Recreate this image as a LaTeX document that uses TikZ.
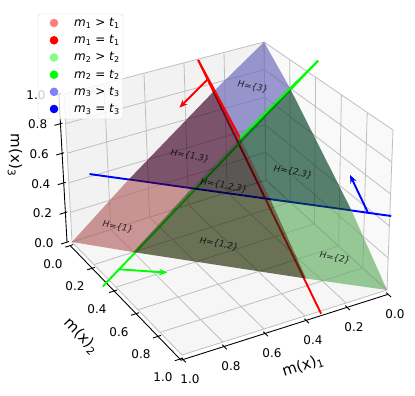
\documentclass[tikz,border=0pt]{standalone}
\usepackage{fontspec}
\setmainfont{DejaVu Sans}
\usepackage{xcolor}
\usetikzlibrary{arrows.meta}

% colours of the regions of the simplex
\definecolor{hA}{RGB}{178,97,97}
\definecolor{hB}{RGB}{97,174,97}
\definecolor{hC}{RGB}{100,100,183}
\definecolor{hAB}{RGB}{32,42,0}
\definecolor{hAC}{RGB}{60,0,35}
\definecolor{hBC}{RGB}{0,63,35}
\definecolor{hABC}{RGB}{11,5,0}

% named point of the unit box, from (m1,m2,m3)
\newcommand{\spot}[4]{\coordinate (#1) at ({px(#2,#3,#4)},{py(#2,#3,#4)});}

\begin{document}
\begin{tikzpicture}[x=1pt, y=-1pt, >={Stealth[length=8pt,width=6.5pt]},
    declare function={
      px(\x,\y,\z)=(1-\z)*((1-\x)*(1-\y)*266+\x*(1-\y)*72+(1-\x)*\y*387+\x*\y*182)
                  +\z*((1-\x)*(1-\y)*264+\x*(1-\y)*64+(1-\x)*\y*393+\x*\y*182);
      py(\x,\y,\z)=(1-\z)*((1-\x)*(1-\y)*180+\x*(1-\y)*242+(1-\x)*\y*290+\x*\y*355)
                  +\z*((1-\x)*(1-\y)*42+\x*(1-\y)*94+(1-\x)*\y*130+\x*\y*185);
    },
    gridline/.style={black!25, line width=0.8pt},
    axisline/.style={black, line width=0.9pt},
    ticklab/.style={font=\fontsize{12}{14}\selectfont, inner sep=0pt},
    axlab/.style={font=\fontsize{15}{18}\selectfont, inner sep=0pt},
    hlab/.style={font=\fontsize{8.8}{10}\selectfont\itshape, rotate=-10, inner sep=0pt, text opacity=0.8},
    mline/.style={line width=1.9pt},
    region/.style={fill opacity=0.65},
    legtext/.style={font=\fontsize{12}{14}\selectfont, inner sep=0pt, anchor=west}]
\useasboundingbox (0,0) rectangle (415,396);

% box corners
\spot{O}{0}{0}{0}
\spot{A}{1}{0}{0}
\spot{B}{0}{1}{0}
\spot{C}{0}{0}{1}
\spot{AB}{1}{1}{0}
\spot{AC}{1}{0}{1}
\spot{BC}{0}{1}{1}

% panes
\fill[gray!10] (O) -- (A) -- (AC) -- (C) -- cycle;
\fill[gray!5] (O) -- (B) -- (BC) -- (C) -- cycle;
\fill[gray!7.5] (O) -- (A) -- (AB) -- (B) -- cycle;

\foreach \t in {0,0.2,0.4,0.6,0.8,1} {
  \draw[gridline] ({px(\t,0,0)},{py(\t,0,0)}) -- ({px(\t,0,1)},{py(\t,0,1)});
  \draw[gridline] ({px(1,0,\t)},{py(1,0,\t)}) -- ({px(0,0,\t)},{py(0,0,\t)});
  \draw[gridline] ({px(0,\t,0)},{py(0,\t,0)}) -- ({px(0,\t,1)},{py(0,\t,1)});
  \draw[gridline] ({px(0,0,\t)},{py(0,0,\t)}) -- ({px(0,1,\t)},{py(0,1,\t)});
  \draw[gridline] ({px(\t,0,0)},{py(\t,0,0)}) -- ({px(\t,1,0)},{py(\t,1,0)});
  \draw[gridline] ({px(0,\t,0)},{py(0,\t,0)}) -- ({px(1,\t,0)},{py(1,\t,0)});
}

% axes
\draw[axisline] ({px(1.01,0,-0.02)},{py(1.01,0,-0.02)}) -- ({px(1.01,1.01,-0.02)},{py(1.01,1.01,-0.02)})
  -- ({px(0,1.01,-0.02)},{py(0,1.01,-0.02)});
\draw[axisline] ({px(1.02,-0.01,0)},{py(1.02,-0.01,0)}) -- ({px(1.02,-0.01,1)},{py(1.02,-0.01,1)});
\foreach \t/\lab in {0/0.0,0.2/0.2,0.4/0.4,0.6/0.6,0.8/0.8,1/1.0} {
  \draw[axisline] ({px(0.995,\t,-0.02)},{py(0.995,\t,-0.02)}) -- ({px(1.035,\t,-0.02)},{py(1.035,\t,-0.02)});
  \node[ticklab] at ({px(1,\t,0)-19},{py(1,\t,0)+22}) {\lab};
  \draw[axisline] ({px(\t,0.995,-0.02)},{py(\t,0.995,-0.02)}) -- ({px(\t,1.035,-0.02)},{py(\t,1.035,-0.02)});
  \node[ticklab] at ({px(\t,1,0)+8},{py(\t,1,0)+24}) {\lab};
  \draw[axisline] ({px(1.01,-0.01,\t)},{py(1.01,-0.01,\t)}) -- ({px(1.05,-0.01,\t)},{py(1.05,-0.01,\t)});
  \node[ticklab] at ({px(1,0,\t)-28},{py(1,0,\t)+1}) {\lab};
}
\node[axlab, rotate=18] (lab1) at (303,366) {m(x)\textsubscript{1}};
\node[axlab, rotate=-46] (lab2) at (81,336) {m(x)\textsubscript{2}};
\node[axlab, rotate=-90] (lab3) at (15,155) {m(x)\textsubscript{3}};

% threshold lines and their crossings with the simplex
\spot{redS}{0.25}{-0.13}{0.88}
\spot{redE}{0.25}{0.88}{-0.13}
\spot{grnS}{-0.14}{0.2}{0.94}
\spot{grnE}{0.96}{0.2}{-0.16}
\spot{bluS}{-0.12}{0.82}{0.3}
\spot{bluE}{0.825}{-0.125}{0.3}
\spot{eR2}{0.25}{0}{0.75}
\spot{eR3}{0.25}{0.75}{0}
\spot{eG1}{0}{0.2}{0.8}
\spot{eG3}{0.8}{0.2}{0}
\spot{eB1}{0}{0.7}{0.3}
\spot{eB2}{0.7}{0}{0.3}
\spot{xRG}{0.25}{0.2}{0.55}
\spot{xRB}{0.25}{0.45}{0.3}
\spot{xGB}{0.5}{0.2}{0.3}

\draw[mline, red] (redS) -- (redE);
\draw[mline, green] (grnS) -- (grnE);
\draw[mline, blue] (bluS) -- (bluE);

% regions H
\fill[region, hA] (A) -- (eG3) -- (xGB) -- (eB2) -- cycle;
\fill[region, hB] (B) -- (eB1) -- (xRB) -- (eR3) -- cycle;
\fill[region, hC] (C) -- (eR2) -- (xRG) -- (eG1) -- cycle;
\fill[region, hAB] (eG3) -- (eR3) -- (xRB) -- (xGB) -- cycle;
\fill[region, hAC] (eB2) -- (xGB) -- (xRG) -- (eR2) -- cycle;
\fill[region, hBC] (eG1) -- (xRG) -- (xRB) -- (eB1) -- cycle;
\fill[region, hABC] (xRG) -- (xGB) -- (xRB) -- cycle;

\draw[mline, red] (redS) -- (xRG);
\draw[mline, green] (grnS) -- (xRG);

\node[hlab] (h1) at (118,227) {H=\{1\}};
\node[hlab] (h2) at (335,258) {H=\{2\}};
\node[hlab] (h3) at (253,87) {H=\{3\}};
\node[hlab] (h12) at (219,244) {H=\{1,2\}};
\node[hlab] (h13) at (190,156) {H=\{1,3\}};
\node[hlab] (h23) at (293,172) {H=\{2,3\}};
\node[hlab] (h123) at (224,186) {H=\{1,2,3\}};

% normals
\spot{redA0}{0.25}{-0.05}{0.8}
\spot{redA1}{0.4}{-0.05}{0.65}
\spot{grnA0}{0.88}{0.2}{-0.08}
\spot{grnA1}{0.72}{0.36}{-0.05}
\spot{bluA0}{-0.05}{0.75}{0.3}
\spot{bluA1}{-0.05}{0.6}{0.45}
\draw[mline, red, ->] (redA0) -- (redA1);
\draw[mline, green, ->] (grnA0) -- (grnA1);
\draw[mline, blue, ->] (bluA0) -- (bluA1);

% legend
\draw[gray!35, fill=white, fill opacity=0.8, rounded corners=2.5pt] (38,14) rectangle (123,119);
\foreach \i/\col/\sgn/\yy in {1/red!50/>/23, 1/red/=/40.3, 2/green!50/>/57.5,
    2/green/=/74.7, 3/blue!50/>/91.8, 3/blue/=/109} {
  \fill[\col] (54,\yy) circle (4.3);
  \node[legtext] at (74,\yy) {\textit{m}\textsubscript{\i} \sgn{} \textit{t}\textsubscript{\i}};
}
\end{tikzpicture}
\end{document}
